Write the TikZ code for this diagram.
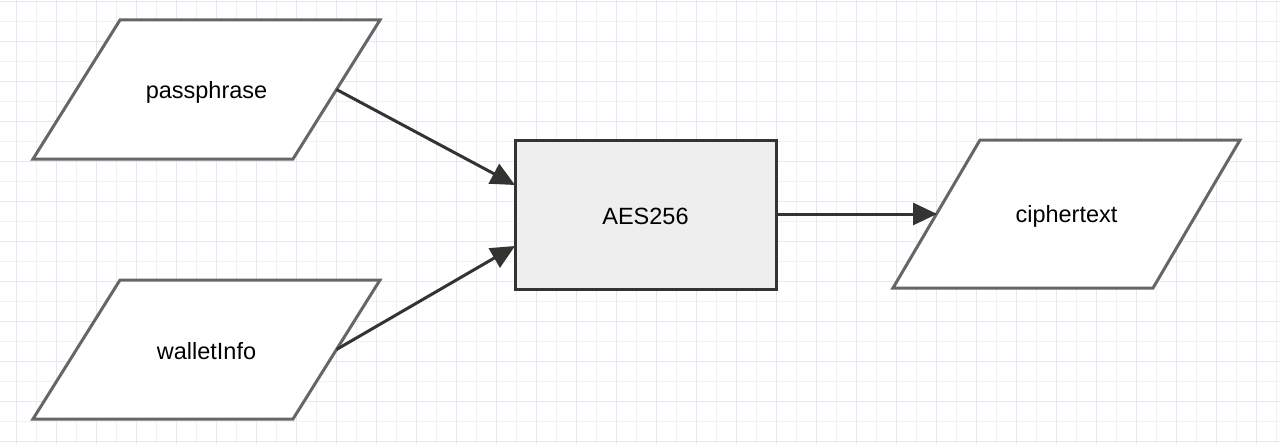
\documentclass[tikz,border=0pt]{standalone}
\usepackage{fontspec}
\setmainfont{Liberation Sans}
\usetikzlibrary{arrows.meta}
\definecolor{gridminor}{HTML}{F0F0FA}
\definecolor{gridmajor}{HTML}{E6E6F5}
\definecolor{shapeline}{HTML}{666666}
\definecolor{darkline}{HTML}{333333}
\definecolor{procfill}{HTML}{EEEEEE}
\tikzset{
  para/.style={draw=shapeline, line width=3pt, fill=white, line join=miter},
  proc/.style={draw=darkline, line width=3pt, fill=procfill},
  lbl/.style={font=\fontsize{23.5pt}{28pt}\selectfont, text=black},
  conn/.style={draw=darkline, line width=3pt, -{Triangle[length=24pt,width=22pt]}}
}
\begin{document}
\begin{tikzpicture}[x=1pt,y=-1pt]
\useasboundingbox (0,0) rectangle (1280,444);
\fill[white] (0,0) rectangle (1280,444);
% grid
\foreach \i in {0,...,63} {
  \pgfmathsetmacro{\xx}{16.7+20*\i}
  \pgfmathtruncatemacro{\mj}{mod(\i,2)}
  \ifnum\mj=0 \draw[gridmajor, line width=1.3pt] (\xx,0) -- (\xx,444);
  \else \draw[gridminor, line width=1.3pt] (\xx,0) -- (\xx,444); \fi
}
\foreach \j in {0,...,22} {
  \pgfmathsetmacro{\yy}{1.7+20*\j}
  \pgfmathtruncatemacro{\mj}{mod(\j,2)}
  \ifnum\mj=0 \draw[gridmajor, line width=1.3pt] (0,\yy) -- (1280,\yy);
  \else \draw[gridminor, line width=1.3pt] (0,\yy) -- (1280,\yy); \fi
}
% shapes
\draw[para] (120,20) -- (380,20) -- (293,159) -- (33,159) -- cycle;
\node[lbl] (pass) at (206.5,92) {passphrase};
\coordinate (passR) at (336.5,89.5);

\draw[para] (120,280) -- (380,280) -- (293,419) -- (33,419) -- cycle;
\node[lbl] (wallet) at (206.5,351.5) {walletInfo};
\coordinate (walletR) at (336.5,349.5);

\draw[proc] (515,140) rectangle (776,289);
\node[lbl] (aes) at (645.5,216.5) {AES256};
\coordinate (aesIn1) at (515,185);
\coordinate (aesIn2) at (515,246);
\coordinate (aesOut) at (776,214);

\draw[para] (980,140) -- (1240,140) -- (1153,288) -- (893,288) -- cycle;
\node[lbl] (cipher) at (1066.5,216.5) {ciphertext};
\coordinate (cipherL) at (937,214);

% connectors
\draw[conn] (passR) -- (aesIn1);
\draw[conn] (walletR) -- (aesIn2);
\draw[conn] (aesOut) -- (cipherL);
\end{tikzpicture}
\end{document}
